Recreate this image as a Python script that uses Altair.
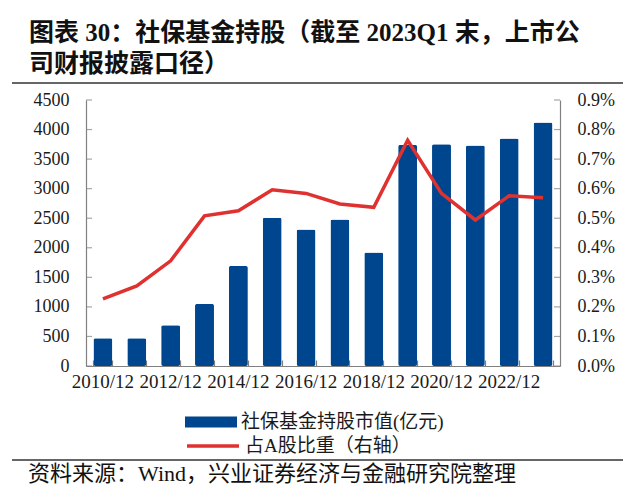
import altair as alt
import pandas as pd

# ---------------- data ----------------
periods = ["2010/12", "2011/12", "2012/12", "2013/12", "2014/12", "2015/12", "2016/12",
           "2017/12", "2018/12", "2019/12", "2020/12", "2021/12", "2022/12", "2023Q1"]
holding_value = [470, 470, 690, 1050, 1690, 2510, 2310, 2480, 1920, 3740, 3750, 3730, 3850, 4120]
share_pct = [0.227, 0.271, 0.356, 0.508, 0.525, 0.596, 0.584, 0.548, 0.537, 0.764, 0.584, 0.494, 0.576, 0.569]
x_labels = ["2010/12", "2012/12", "2014/12", "2016/12", "2018/12", "2020/12", "2022/12"]
left_ticks = [0, 500, 1000, 1500, 2000, 2500, 3000, 3500, 4000, 4500]
right_ticks = [0.0, 0.1, 0.2, 0.3, 0.4, 0.5, 0.6, 0.7, 0.8, 0.9]
series_names = ["社保基金持股市值(亿元)", "占A股比重（右轴）"]
title_lines = ["图表 30：社保基金持股（截至 2023Q1 末，上市公", "司财报披露口径）"]
source_note = "资料来源：Wind，兴业证券经济与金融研究院整理"

# ---------------- styles ----------------
BLUE = "#00468f"
RED = "#e03131"
GRAY = "#808080"
TXT = "#1a1a1a"
SERIF = "Liberation Serif"
MIXED = "Liberation Serif, Noto Sans CJK SC"
W, H = 474, 266

df = pd.DataFrame({
    "period": periods,
    "value": holding_value,
    "share": share_pct,
    "s1": series_names[0],
    "s2": series_names[1],
})


def xenc(axis):
    return alt.X("period:N", sort=periods, title=None,
                 scale=alt.Scale(paddingInner=0.44, paddingOuter=0.22), axis=axis)


y_left_scale = alt.Scale(domain=[0, 4500], nice=False, zero=True)
y_right_scale = alt.Scale(domain=[0, 0.9], nice=False, zero=True)

bars = alt.Chart(df).mark_bar(cornerRadius=2).encode(
    x=xenc(alt.Axis(orient="bottom", values=x_labels, labelAngle=0, ticks=False, tickSize=0,
                    domainColor=GRAY, domainWidth=1.2, labelFont=SERIF, labelFontSize=19,
                    labelColor=TXT, labelPadding=6, labelOverlap=False)),
    y=alt.Y("value:Q", scale=y_left_scale, title=None,
            axis=alt.Axis(orient="left", values=left_ticks, ticks=False, tickSize=0, grid=False,
                          domainColor=GRAY, domainWidth=1.2, labelFont=SERIF, labelFontSize=18,
                          labelColor=TXT, labelPadding=17, labelOverlap=False, format="d")),
    color=alt.Color("s1:N", scale=alt.Scale(range=[BLUE]),
                    legend=alt.Legend(orient="none", legendX=99, legendY=296, title=None,
                                      symbolType="M-1,-0.21H1V0.21H-1Z", symbolSize=2704,
                                      symbolStrokeWidth=0, labelFont=MIXED, labelFontSize=19,
                                      labelColor=TXT, labelOffset=4, padding=0, labelLimit=500)),
)

line = alt.Chart(df).mark_line(strokeWidth=3.5).encode(
    x=xenc(None),
    y=alt.Y("share:Q", scale=y_right_scale, title=None,
            axis=alt.Axis(orient="right", values=right_ticks, ticks=False, tickSize=0, grid=False,
                          domainColor=GRAY, domainWidth=1.2, labelFont=SERIF, labelFontSize=18,
                          labelColor=TXT, labelPadding=17, labelOverlap=False,
                          labelExpr="format(datum.value, '.1f') + '%'")),
    color=alt.Color("s2:N", scale=alt.Scale(range=[RED]),
                    legend=alt.Legend(orient="none", legendX=99, legendY=318, title=None,
                                      symbolType="stroke", symbolSize=2704, symbolStrokeWidth=3.5,
                                      labelFont=MIXED, labelFontSize=19, labelColor=TXT,
                                      labelOffset=4, padding=0, labelLimit=500)),
)

# inward x ticks: a top-oriented axis moved down onto the bottom edge
tick_x = alt.Chart(df).mark_bar(opacity=0).encode(
    x=xenc(alt.Axis(orient="top", offset=-H, labels=False, domain=False, ticks=True, tickSize=6,
                    tickColor=GRAY, tickWidth=1.2, tickBand="extent")),
    y=alt.Y("value:Q", scale=y_left_scale, title=None, axis=None),
)

# inward y ticks as tick marks on the two value scales
tick_yl = alt.Chart(pd.DataFrame({"v": left_ticks})).mark_tick(
    orient="horizontal", color=GRAY, thickness=1.2, size=6
).encode(y=alt.Y("v:Q", scale=y_left_scale, axis=None), x=alt.value(3))

tick_yr = alt.Chart(pd.DataFrame({"v": right_ticks})).mark_tick(
    orient="horizontal", color=GRAY, thickness=1.2, size=6
).encode(y=alt.Y("v:Q", scale=y_right_scale, axis=None), x=alt.value(W - 3))

one = pd.DataFrame({"k": [0]})
title1 = alt.Chart(pd.DataFrame({"t": [title_lines[0]]})).mark_text(
    align="left", baseline="middle", font=MIXED, fontSize=25, fontWeight="bold", color="#111"
).encode(x=alt.value(-57), y=alt.value(-67), text="t:N")
title2 = alt.Chart(pd.DataFrame({"t": [title_lines[1]]})).mark_text(
    align="left", baseline="middle", font=MIXED, fontSize=25, fontWeight="bold", color="#111"
).encode(x=alt.value(-57), y=alt.value(-36), text="t:N")
rule_top = alt.Chart(one).mark_rule(color="#333", strokeWidth=1.3).encode(
    x=alt.value(-74), x2=alt.value(537), y=alt.value(-17))
rule_bottom = alt.Chart(one).mark_rule(color="#333", strokeWidth=1.3).encode(
    x=alt.value(-74), x2=alt.value(537), y=alt.value(360))
footer = alt.Chart(pd.DataFrame({"t": [source_note]})).mark_text(
    align="left", baseline="middle", font=MIXED, fontSize=22, color="#111"
).encode(x=alt.value(-58), y=alt.value(374), text="t:N")

chart = alt.layer(
    bars, line, tick_x, tick_yl, tick_yr, title1, title2, rule_top, rule_bottom, footer
).resolve_scale(
    y="independent", color="independent"
).resolve_axis(
    x="independent", y="independent"
).resolve_legend(
    color="independent"
).properties(
    width=W, height=H,
    autosize=alt.AutoSizeParams(type="none"),
    padding={"left": 78, "top": 92, "right": 72, "bottom": 122},
).configure_view(stroke=None)

chart.save("out.html", embed_options={"renderer": "svg", "actions": False})
